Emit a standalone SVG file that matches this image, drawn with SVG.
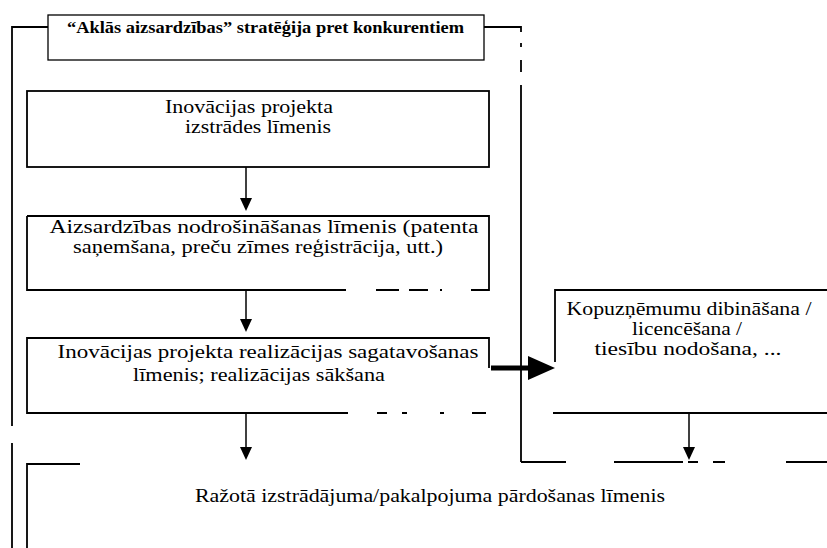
<svg xmlns="http://www.w3.org/2000/svg" width="827" height="548" viewBox="0 0 827 548">
<style>
.bg{fill:#fff}
.box{fill:none;stroke:#000;stroke-width:1.8}
.thin{fill:none;stroke:#000;stroke-width:1.3}
.t{font-family:"Liberation Serif","Times New Roman",serif;font-size:18px;fill:#000;text-anchor:middle}
.tb{font-family:"Liberation Serif","Times New Roman",serif;font-size:16.5px;font-weight:bold;fill:#000;text-anchor:middle}
.ln{fill:none;stroke:#000;stroke-width:1.8}
.ar{fill:none;stroke:#000;stroke-width:1.5}
.hd{fill:#000}
</style>
<rect class="bg" x="0" y="0" width="827" height="548"/>

<g id="connectors">
  <path class="ln" d="M48,27 H12 V426 M12,443 V548"/>
  <path class="ln" d="M484,27 H521 V32 M521,43 V47 M521,60 V72 M521,85 V462"/>
  <path class="ln" d="M521,462 H566 M614,462 H683 M688,462 H698 M713,462 H725 M786,462 H827"/>
  <line class="ar" x1="246" y1="167" x2="246" y2="199"/>
  <polygon class="hd" points="240,198 252,198 246,211"/>
  <line class="ar" x1="246" y1="290" x2="246" y2="320"/>
  <polygon class="hd" points="240,319 252,319 246,332"/>
  <line class="ar" x1="246" y1="413" x2="246" y2="448"/>
  <polygon class="hd" points="240,447 252,447 246,460"/>
  <line class="ar" x1="689" y1="413" x2="689" y2="448"/>
  <polygon class="hd" points="683,447 695,447 689,460"/>
  <line x1="491" y1="368" x2="530" y2="368" stroke="#000" stroke-width="5"/>
  <polygon class="hd" points="528,356 555,368 528,380"/>
</g>

<g id="node-strategy">
  <rect class="thin" x="48" y="15" width="436" height="45"/>
  <text class="tb" x="265.5" y="33" textLength="397" lengthAdjust="spacingAndGlyphs">“Aklās aizsardzības” stratēģija pret konkurentiem</text>
</g>

<g id="node-development">
  <rect class="box" x="27" y="91" width="462" height="76"/>
  <text class="t" x="249" y="113" textLength="168" lengthAdjust="spacingAndGlyphs">Inovācijas projekta</text>
  <text class="t" x="258" y="133" textLength="146" lengthAdjust="spacingAndGlyphs">izstrādes līmenis</text>
</g>

<g id="node-protection">
  <path class="box" d="M27,216 H489 V290 H471 M442,290 H440 M428,290 H409 M399,290 H376 M346,290 H27 V216"/>
  <text class="t" x="264" y="233" textLength="429" lengthAdjust="spacingAndGlyphs">Aizsardzības nodrošināšanas līmenis (patenta</text>
  <text class="t" x="258" y="253" textLength="370" lengthAdjust="spacingAndGlyphs">saņemšana, preču zīmes reģistrācija, utt.)</text>
</g>

<g id="node-realization">
  <path class="box" d="M489,368 V338 H27 V413 H348 M377,413 H387 M402,413 H407 M440,413 H444 M472,413 H486"/>
  <text class="t" x="268" y="358" textLength="421" lengthAdjust="spacingAndGlyphs">Inovācijas projekta realizācijas sagatavošanas</text>
  <text class="t" x="259" y="381" textLength="252" lengthAdjust="spacingAndGlyphs">līmenis; realizācijas sākšana</text>
</g>

<g id="node-jointventure">
  <path class="box" d="M555,362 V290 H827 M553,413 H827"/>
  <text class="t" x="689" y="315" textLength="245" lengthAdjust="spacingAndGlyphs">Kopuzņēmumu dibināšana /</text>
  <text class="t" x="687" y="335" textLength="110" lengthAdjust="spacingAndGlyphs">licencēšana /</text>
  <text class="t" x="688" y="355" textLength="187" lengthAdjust="spacingAndGlyphs">tiesību nodošana, ...</text>
</g>

<g id="node-sales">
  <path class="box" d="M80,464 H27 V548"/>
  <text class="t" x="430" y="502" textLength="470" lengthAdjust="spacingAndGlyphs">Ražotā izstrādājuma/pakalpojuma pārdošanas līmenis</text>
</g>
</svg>
